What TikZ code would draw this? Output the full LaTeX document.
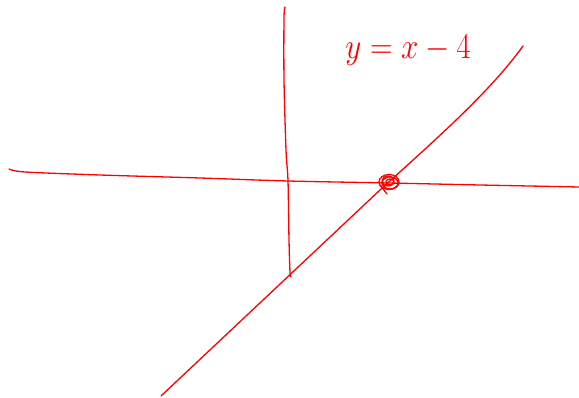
\documentclass[tikz,border=0pt]{standalone}
\begin{document}
\begin{tikzpicture}[x=1pt,y=-1pt,line cap=round,line join=round]
  \tikzset{sketch/.style={red,line width=1.3pt},
           label/.style={red,font=\Huge}}
  \useasboundingbox (0,0) rectangle (579,398);
  % axes, drawn by hand
  \draw[sketch] plot[smooth] coordinates {(9,169) (25,172) (100,175) (200,178) (288,181) (389,183) (480,185) (579,187)};
  \draw[sketch] plot[smooth] coordinates {(285,7) (284,18) (284,80) (286,150) (288,181) (289,240) (290,272) (291,277)};
  % line y = x - 4
  \coordinate (lo) at (161,396);
  \coordinate (hi) at (523,46);
  \draw[sketch] (lo) -- (380,190) .. controls (435,140) and (490,92) .. (hi);
  % the root, circled
  \coordinate (root) at (389,182);
  \draw[sketch] (root) ellipse (10 and 7.5);
  \draw[sketch] ([shift={(1,1)}]root) ellipse (8 and 6);
  \draw[sketch] ([shift={(-1,-1)}]root) ellipse (6 and 5);
  \draw[sketch] ([shift={(1,0)}]root) ellipse (4 and 3);
  \draw[sketch] ([shift={(-9,3)}]root) -- ([shift={(-2,12)}]root);
  % labels
  \node[label] (eqn) at (408,50) {\scalebox{1.25}[1.45]{$y=x-4$}};
\end{tikzpicture}
\end{document}
